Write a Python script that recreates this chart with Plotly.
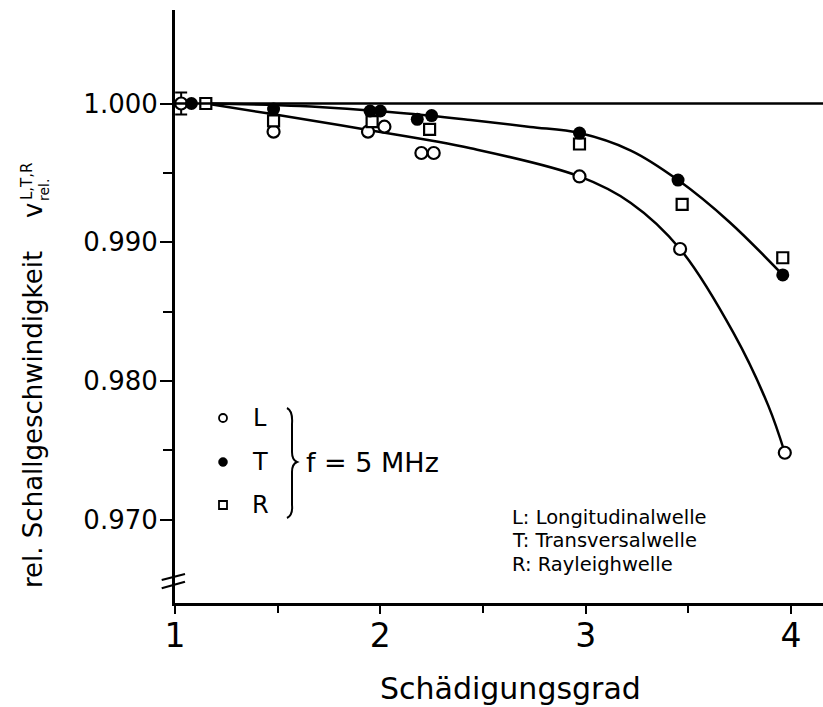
import plotly.graph_objects as go

# Relative sound velocity vs. degree of damage, f = 5 MHz
x_L = [1.03, 1.48, 1.94, 2.02, 2.20, 2.26, 2.97, 3.46, 3.97]
v_L = [1.0000, 0.99797, 0.99797, 0.99833, 0.99643, 0.99643, 0.99474, 0.98951, 0.97482]
err_L = [0.0008, 0, 0, 0, 0, 0, 0, 0, 0]

x_T = [1.08, 1.48, 1.95, 2.00, 2.18, 2.25, 2.97, 3.45, 3.96]
v_T = [1.0000, 0.99960, 0.99946, 0.99946, 0.99886, 0.99913, 0.99787, 0.99448, 0.98764]

x_R = [1.15, 1.48, 1.96, 2.24, 2.97, 3.47, 3.96]
v_R = [1.0000, 0.99874, 0.99869, 0.99814, 0.99708, 0.99273, 0.98888]

# hand-fitted trend curves (upper: transversal, lower: longitudinal)
fit_T_x = [1.15, 1.61, 2.10, 2.44, 2.73, 2.97, 3.22, 3.45, 3.70, 3.96]
fit_T_v = [1.0000, 0.99982, 0.99932, 0.99881, 0.99831, 0.99787, 0.99661, 0.99448, 0.99146, 0.98764]
fit_L_x = [1.15, 1.45, 1.92, 2.44, 2.97, 3.22, 3.46, 3.72, 3.89, 3.97]
fit_L_v = [1.0000, 0.99929, 0.99814, 0.99677, 0.99474, 0.99283, 0.98951, 0.98346, 0.97820, 0.97482]

x_ticks = [1, 2, 3, 4]
x_minor = [1.5, 2.5, 3.5]
y_ticks = [0.970, 0.980, 0.990, 1.000]
y_tick_text = ["0.970", "0.980", "0.990", "1.000"]
y_minor = [0.975, 0.985, 0.995]
reference_level = 1.000

wave_notes = ["L: Longitudinalwelle", "T: Transversalwelle", "R: Rayleighwelle"]

W, H = 823, 707
L_M, R_M, T_M, B_M = 175, 0, 10, 104
PW, PH = W - L_M - R_M, H - T_M - B_M
X_RANGE = [1.0, 4.156]
Y_RANGE = [0.963987, 1.006741]

FONT = "DejaVu Sans"


def px(xp):
    return (xp - L_M) / PW


def py(yp):
    return (H - B_M - yp) / PH


fig = go.Figure()

for fx, fv in ((fit_T_x, fit_T_v), (fit_L_x, fit_L_v)):
    fig.add_trace(go.Scatter(
        x=fx, y=fv, mode="lines",
        line=dict(color="black", width=2.5, shape="spline", smoothing=1.0),
        hoverinfo="skip", showlegend=False))

fig.add_trace(go.Scatter(
    x=x_L, y=v_L, mode="markers", name="L",
    marker=dict(symbol="circle", size=12, color="white",
                line=dict(color="black", width=2.2)),
    error_y=dict(type="data", array=err_L, visible=True,
                 color="black", thickness=2, width=6),
    showlegend=False))
fig.add_trace(go.Scatter(
    x=x_R, y=v_R, mode="markers", name="R",
    marker=dict(symbol="square", size=11, color="white",
                line=dict(color="black", width=2.2)),
    showlegend=False))
fig.add_trace(go.Scatter(
    x=x_T, y=v_T, mode="markers", name="T",
    marker=dict(symbol="circle", size=13, color="black",
                line=dict(color="black", width=0)),
    showlegend=False))

shapes = []
# reference line at v_rel = 1
shapes.append(dict(type="line", xref="paper", yref="y", x0=0, x1=1,
                   y0=reference_level, y1=reference_level,
                   line=dict(color="black", width=2.5)))
# axis break marks
for (xa, ya, xb, yb) in ((161.7, 580, 185, 574), (161.7, 588.3, 185, 581.7)):
    shapes.append(dict(type="line", xref="paper", yref="paper",
                       x0=px(xa), y0=py(ya), x1=px(xb), y1=py(yb),
                       line=dict(color="black", width=2.2)))
# legend symbols
shapes.append(dict(type="circle", xref="paper", yref="paper",
                   x0=px(219), x1=px(227), y0=py(422), y1=py(414),
                   line=dict(color="black", width=1.8), fillcolor="white"))
shapes.append(dict(type="circle", xref="paper", yref="paper",
                   x0=px(218.5), x1=px(227.5), y0=py(466.5), y1=py(457.5),
                   line=dict(color="black", width=0.5), fillcolor="black"))
shapes.append(dict(type="rect", xref="paper", yref="paper",
                   x0=px(219), x1=px(227), y0=py(509), y1=py(501),
                   line=dict(color="black", width=1.8), fillcolor="white"))


# curly brace grouping the three symbols
def pt(a, b):
    return f"{px(a):.5f},{py(b):.5f}"


brace = ("M " + pt(287, 408) + " Q " + pt(293, 411) + " " + pt(292, 424)
         + " L " + pt(292, 452) + " Q " + pt(292, 460) + " " + pt(297, 462)
         + " Q " + pt(292, 464) + " " + pt(292, 472)
         + " L " + pt(292, 505) + " Q " + pt(293, 515) + " " + pt(287, 518))
shapes.append(dict(type="path", xref="paper", yref="paper", path=brace,
                   line=dict(color="black", width=2)))

annotations = []


def text(xp, yp, s, size, family=FONT, xanchor="center", angle=0):
    annotations.append(dict(
        xref="paper", yref="paper", x=px(xp), y=py(yp), text=s,
        showarrow=False, xanchor=xanchor, yanchor="middle", textangle=angle,
        font=dict(family=family, size=size, color="black")))


text(260, 418, "L", 24)
text(260, 462, "T", 24)
text(260, 505, "R", 24)
text(304, 462, "f = 5 MHz", 27, xanchor="left")

# wave type explanations, one row each
for i, note in enumerate(wave_notes):
    text(510, 517 + 23.5 * i, note, 19.5, xanchor="left")

# axis titles
text(510, 688, "Schädigungsgrad", 30)
text(33, 420, "rel. Schallgeschwindigkeit", 26, angle=-90)
text(33, 211, "v", 26, angle=-90)
text(27, 182, "L,T,R", 15, angle=-90)
text(44, 190, "rel.", 14, angle=-90)

fig.update_layout(
    width=W, height=H,
    margin=dict(l=L_M, r=R_M, t=T_M, b=B_M, pad=0),
    paper_bgcolor="white", plot_bgcolor="white",
    shapes=shapes, annotations=annotations,
    showlegend=False,
    xaxis=dict(
        range=X_RANGE, showgrid=False, zeroline=False,
        showline=True, linecolor="black", linewidth=3,
        ticks="outside", ticklen=8, tickwidth=2.2, tickcolor="black",
        tickvals=x_ticks, ticktext=[str(v) for v in x_ticks],
        tickfont=dict(family=FONT, size=33, color="black"),
        ticklabelstandoff=-7,
        minor=dict(tickvals=x_minor, ticks="outside", ticklen=7,
                   tickwidth=2, tickcolor="black"),
    ),
    yaxis=dict(
        range=Y_RANGE, showgrid=False, zeroline=False,
        showline=True, linecolor="black", linewidth=3,
        ticks="outside", ticklen=12, tickwidth=2.2, tickcolor="black",
        tickvals=y_ticks, ticktext=y_tick_text,
        tickfont=dict(family=FONT, size=26, color="black"),
        ticklabelstandoff=-3,
        minor=dict(tickvals=y_minor, ticks="outside", ticklen=9,
                   tickwidth=2, tickcolor="black"),
    ),
)

fig.write_html("out.html")
